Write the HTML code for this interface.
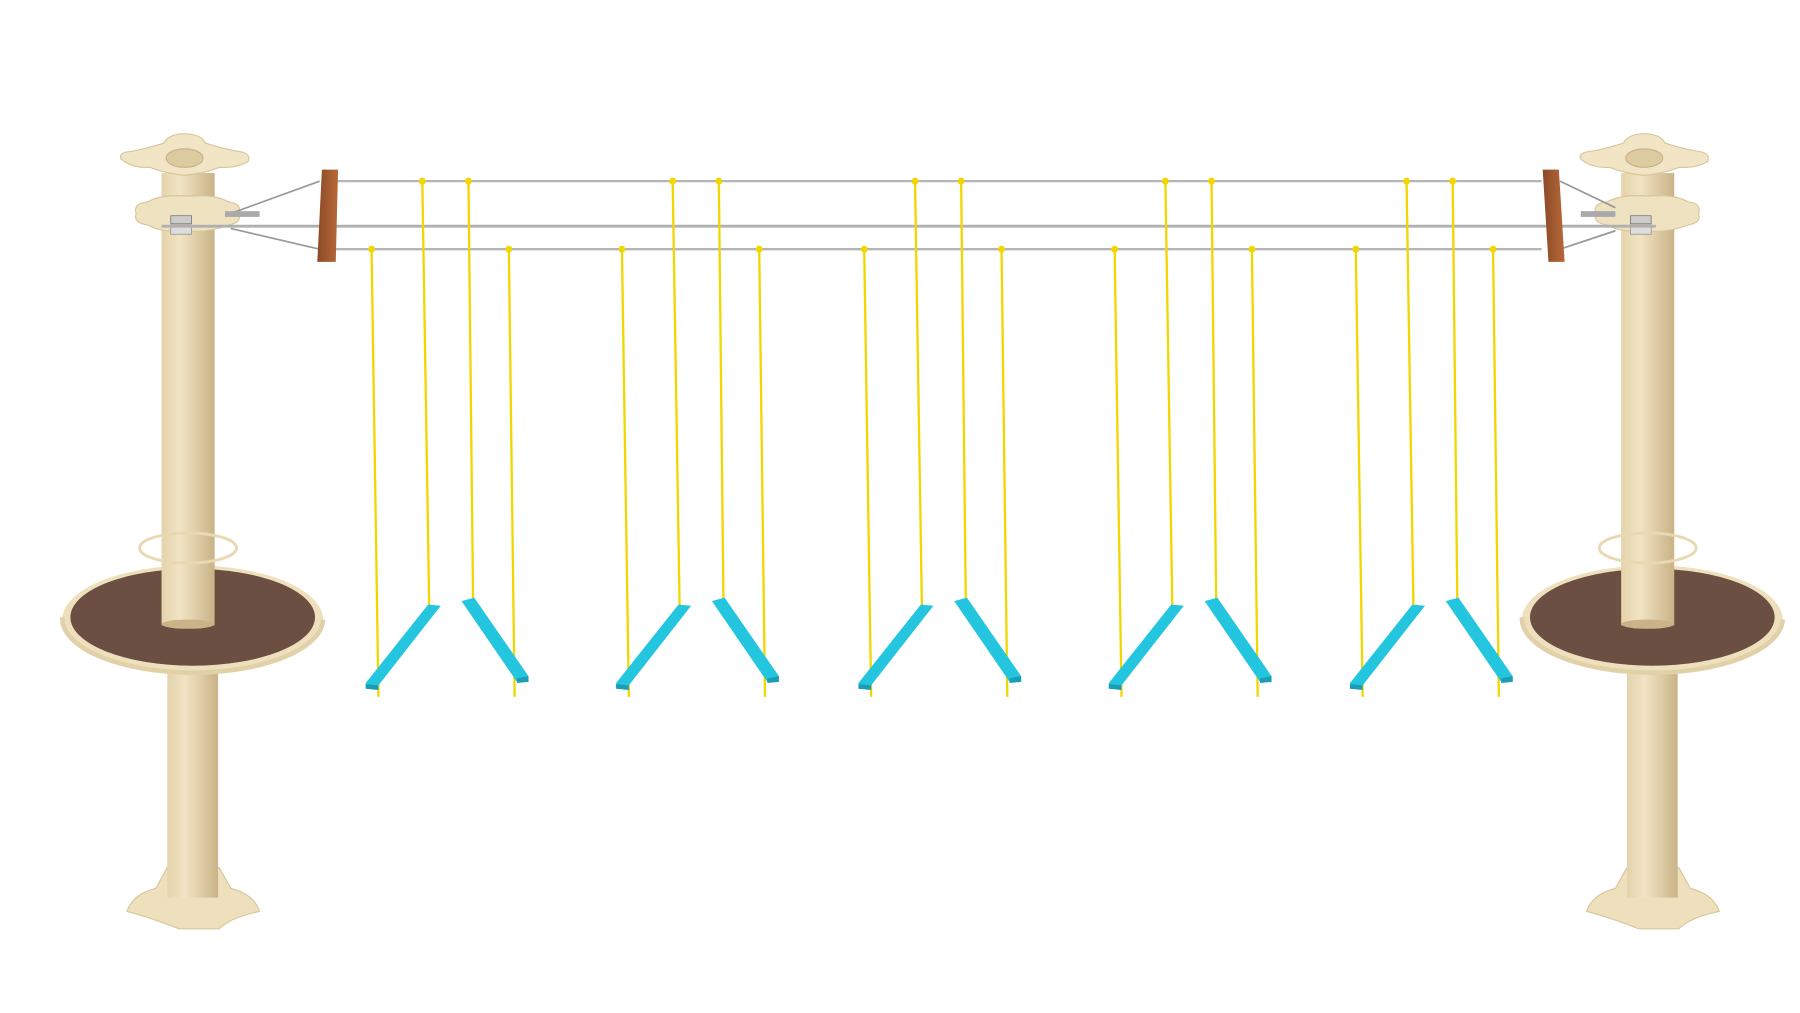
<!DOCTYPE html>
<html><head><meta charset="utf-8"><style>
html,body{margin:0;padding:0;background:#fff;width:1800px;height:1013px;overflow:hidden}
svg{display:block}
</style></head><body>
<svg width="1800" height="1013" viewBox="0 0 1560 878" preserveAspectRatio="none" xmlns="http://www.w3.org/2000/svg">
<defs>
<linearGradient id="pole" x1="0" x2="1" y1="0" y2="0">
<stop offset="0" stop-color="#e4d3ac"/><stop offset="0.35" stop-color="#f1e4c4"/><stop offset="1" stop-color="#c9b387"/>
</linearGradient>
<linearGradient id="wood" x1="0" x2="1"><stop offset="0" stop-color="#8a4a25"/><stop offset="1" stop-color="#b8683a"/></linearGradient>
<g id="tower">
  <path d="M-50,790 Q-45,775 -25,770 L-15,752 L30,752 L40,770 Q60,775 65,790 Q40,795 30,805 L-5,805 Q-30,795 -50,790 Z" fill="#eee0bd" stroke="#d8c69c"/>
  <rect x="-15" y="578" width="44" height="200" fill="url(#pole)"/>
  <ellipse cx="7" cy="537" rx="113" ry="47" fill="#eee0bd"/>
  <ellipse cx="7" cy="535" rx="106" ry="42" fill="#6b4f43"/>
  <path d="M-106,535 A113,47 0 0,0 120,537" fill="none" stroke="#e2d1a8" stroke-width="4"/>
  <rect x="-20" y="150" width="46" height="392" fill="url(#pole)"/>
  <ellipse cx="3" cy="541" rx="23" ry="4" fill="#c9b387"/>
  <ellipse cx="3" cy="475" rx="42" ry="13" fill="none" stroke="#e9d9b2" stroke-width="2.5"/>
  <path d="M-42,185 Q-45,176 -32,175 Q-20,168 3,170 Q26,168 38,175 Q50,176 47,185 Q50,193 38,195 Q20,202 3,200 Q-20,202 -32,195 Q-45,193 -42,185 Z" fill="#efe2c0" stroke="#d8c69c"/>
  <rect x="-12" y="187" width="18" height="7" fill="#ccc" stroke="#666" stroke-width="0.6"/>
  <rect x="-12" y="195" width="18" height="8" fill="#ddd" stroke="#888" stroke-width="0.6"/>
  <path d="M-55,138 Q-58,132 -45,131 Q-30,128 -18,124 Q-14,116 0,116 Q14,116 18,124 Q30,128 45,131 Q58,132 55,140 Q45,146 30,145 Q18,150 0,152 Q-18,150 -30,145 Q-45,146 -55,138 Z" fill="#f1e5c6" stroke="#d8c69c"/>
  <ellipse cx="0" cy="137" rx="16" ry="8" fill="#dccaa0" stroke="#c8b283"/>
</g>
<g id="grp">
  <line x1="322" y1="216" x2="328" y2="604" stroke="#f2d600" stroke-width="2"/>
  <line x1="366" y1="157" x2="372" y2="526" stroke="#f2d600" stroke-width="2"/>
  <line x1="406" y1="157" x2="410" y2="521" stroke="#f2d600" stroke-width="2"/>
  <line x1="441" y1="216" x2="446" y2="604" stroke="#f2d600" stroke-width="2"/>
  <circle cx="322" cy="216" r="3" fill="#f2d600"/><circle cx="366" cy="157" r="3" fill="#f2d600"/>
  <circle cx="406" cy="157" r="3" fill="#f2d600"/><circle cx="441" cy="216" r="3" fill="#f2d600"/>
  <polygon points="317,592 371,524 382,525 328,594 317,597" fill="#24c6df"/>
  <polygon points="317,593 328,594 328,598 317,597" fill="#1a9db5"/>
  <polygon points="400,521 411,518 458,586 458,591 448,591" fill="#24c6df"/>
  <polygon points="448,588 458,586 458,591 448,592" fill="#1a9db5"/>
</g>
</defs>
<rect width="1560" height="878" fill="#fff"/>
<use href="#tower" x="160" y="0"/>
<use href="#tower" x="1433" y="0" transform="translate(-8,0)"/>
<line x1="290" y1="157" x2="1336" y2="157" stroke="#b5b5b5" stroke-width="2"/>
<line x1="290" y1="216" x2="1336" y2="216" stroke="#b5b5b5" stroke-width="2"/>
<line x1="140" y1="196" x2="1435" y2="196" stroke="#b0b0b0" stroke-width="2.5"/>
<line x1="200" y1="185" x2="277" y2="157" stroke="#999" stroke-width="1.5"/>
<line x1="200" y1="198" x2="277" y2="216" stroke="#999" stroke-width="1.5"/>
<line x1="1352" y1="157" x2="1400" y2="180" stroke="#999" stroke-width="1.5"/>
<line x1="1352" y1="216" x2="1400" y2="200" stroke="#999" stroke-width="1.5"/>
<rect x="195" y="183" width="30" height="5" fill="#aaa"/>
<rect x="1370" y="183" width="30" height="5" fill="#aaa"/>
<polygon points="279,147 293,147 291,227 275,227" fill="url(#wood)"/>
<polygon points="1337,147 1351,147 1356,227 1342,227" fill="url(#wood)"/>
<use href="#grp" x="0"/>
<use href="#grp" x="217"/>
<use href="#grp" x="427"/>
<use href="#grp" x="644"/>
<use href="#grp" x="853"/>
</svg>
</body></html>
